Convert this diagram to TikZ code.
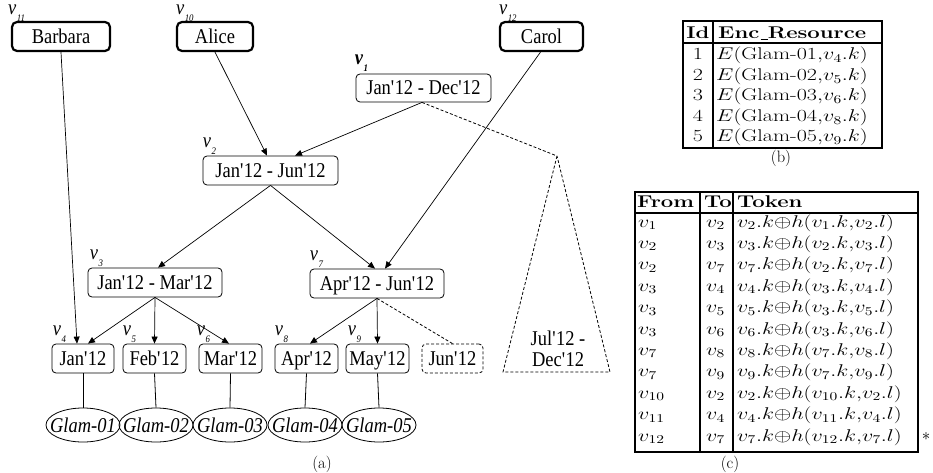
\RequirePackage{fix-cm}
\documentclass[tikz,border=0pt]{standalone}
\usepackage{fontspec}
\usepackage{graphicx}
\usetikzlibrary{arrows.meta,shapes.geometric,calc}
\newfontfamily\treefont[FakeStretch=0.88]{Liberation Serif}
\newcommand\ap{\textquotesingle}
\newcommand\vv[1]{{\treefont\fontsize{21}{22}\selectfont\itshape v\kern0.5pt\raisebox{-7pt}{\fontsize{10}{10}\selectfont #1}}}
\newcommand\vvb[1]{{\treefont\fontsize{21}{22}\selectfont\bfseries\itshape v\kern0.5pt\raisebox{-7pt}{\fontsize{10}{10}\selectfont #1}}}
\newcommand\tbx[1]{\scalebox{1.3}[1]{#1}}
\newcommand\us{\kern0.06em\rule[-0.08em]{0.32em}{0.09em}}
\begin{document}
\begin{tikzpicture}[x=1pt,y=-1pt,
  treefnt/.style={font=\treefont\fontsize{21}{22}\selectfont},
  namebox/.style={treefnt, draw, line width=2.2pt, rounded corners=5pt, minimum height=29pt, inner sep=0pt, text height=14pt, text depth=0pt},
  tbox/.style={treefnt, draw, line width=0.8pt, rounded corners=4pt, minimum height=29pt, inner sep=0pt, text height=14pt, text depth=0pt},
  leafbox/.style={tbox, minimum width=63pt},
  res/.style={font=\treefont\fontsize{21}{22}\selectfont\itshape, draw, line width=0.8pt, ellipse, minimum width=74pt, minimum height=34pt, inner sep=0pt, text height=14pt, text depth=0pt},
  lab/.style={anchor=base west, inner sep=0pt, text height=9pt},
  arr/.style={-{Triangle[length=7pt,width=6pt]}, line width=0.7pt},
  solidline/.style={line width=0.8pt},
  dsh/.style={line width=0.8pt, dash pattern=on 3pt off 2pt},
  tbl/.style={line width=2.4pt},
  tb/.style={inner sep=0pt, font=\fontsize{17}{17}\selectfont},
  tc/.style={inner sep=0pt, font=\fontsize{17}{17}\selectfont},
  captxt/.style={inner sep=0pt, anchor=base, font=\fontsize{16.5}{16.5}\selectfont}
]
\useasboundingbox (0,0) rectangle (933,473);

% users
\node[namebox, minimum width=98pt] (barbara) at (61,36.5) {Barbara};
\node[namebox, minimum width=76pt] (alice) at (215,36.5) {Alice};
\node[namebox, minimum width=83pt] (carol) at (541.5,36.5) {Carol};

% tree
\node[tbox, minimum width=135pt, minimum height=28pt] (v1) at (423.5,88) {Jan\ap12 - Dec\ap12};
\node[tbox, minimum width=135pt] (v2) at (270.5,170.5) {Jan\ap12 - Jun\ap12};
\node[tbox, minimum width=134pt] (v3) at (155,282.5) {Jan\ap12 - Mar\ap12};
\node[tbox, minimum width=134pt] (v7) at (377,283.5) {Apr\ap12 - Jun\ap12};

\node[leafbox, minimum width=62pt] (jan) at (83,358.5) {Jan\ap12};
\node[leafbox] (feb) at (154.5,358.5) {Feb\ap12};
\node[leafbox] (mar) at (230.5,358.5) {Mar\ap12};
\node[leafbox] (apr) at (306.5,358.5) {Apr\ap12};
\node[leafbox] (may) at (377.5,358.5) {May\ap12};
\node[tbox, minimum width=61pt, dash pattern=on 3pt off 2pt] (jun) at (452.5,358.5) {Jun\ap12};

% resources
\node[res] (g1) at (83,425) {\makebox[40pt]{Glam-01}};
\node[res] (g2) at (156,425) {\makebox[40pt]{Glam-02}};
\node[res] (g3) at (230,425) {\makebox[40pt]{Glam-03}};
\node[res] (g4) at (305,425) {\makebox[40pt]{Glam-04}};
\node[res] (g5) at (379,425) {\makebox[40pt]{Glam-05}};

% labels
\node[lab] (l11) at ([xshift=-3pt,yshift=6pt]barbara.north west) {\vv{11}};
\node[lab] (l10) at ([xshift=0pt,yshift=6pt]alice.north west) {\vv{10}};
\node[lab] (l12) at ([xshift=0pt,yshift=6pt]carol.north west) {\vv{12}};
\node[lab] (l1) at ([xshift=-1pt,yshift=9pt]v1.north west) {\vvb{1}};
\node[lab] (l2) at ([xshift=0pt,yshift=8pt]v2.north west) {\vv{2}};
\node[lab] (l3) at ([xshift=2pt,yshift=8pt]v3.north west) {\vv{3}};
\node[lab] (l7) at ([xshift=0pt,yshift=8pt]v7.north west) {\vv{7}};
\node[lab] (l4) at ([xshift=1pt,yshift=8pt]jan.north west) {\vv{4}};
\node[lab] (l5) at ([xshift=0pt,yshift=8pt]feb.north west) {\vv{5}};
\node[lab] (l6) at ([xshift=-2pt,yshift=8pt]mar.north west) {\vv{6}};
\node[lab] (l8) at ([xshift=0pt,yshift=8pt]apr.north west) {\vv{8}};
\node[lab] (l9) at ([xshift=2pt,yshift=8pt]may.north west) {\vv{9}};

% arrows
\draw[arr] (barbara.south) -- ([xshift=-6pt]jan.north);
\draw[arr] (v3.south) -- ([xshift=5pt]jan.north);
\draw[arr] (v3.south) -- (feb.north);
\draw[arr] (v3.south) -- ([xshift=-1.5pt]mar.north);
\draw[arr] (alice.south) -- ([xshift=-3.5pt]v2.north);
\draw[arr] ([xshift=-1.5pt]v1.south) -- ([xshift=24.5pt]v2.north);
\draw[arr] (v2.south) -- ([xshift=3pt]v3.north);
\draw[arr] (v2.south) -- ([xshift=-2pt]v7.north);
\draw[arr] ([xshift=-1pt]carol.south) -- ([xshift=8pt]v7.north);
\draw[arr] (v7.south) -- ([xshift=3.5pt]apr.north);
\draw[arr] (v7.south) -- (may.north);
\draw[dsh] (v7.south) -- (jun.north);

\draw[solidline] (jan.south) -- (g1.north);
\draw[solidline] (feb.south) -- (g2.north);
\draw[solidline] (mar.south) -- (g3.north);
\draw[solidline] (apr.south) -- (g4.north);
\draw[solidline] (may.south) -- (g5.north);

% subtree triangle
\coordinate (apex) at (557,156);
\coordinate (tl) at (503,372);
\coordinate (tr) at (610,372);
\draw[dsh] ([xshift=-1.5pt]v1.south) -- (apex);
\draw[dsh] (apex) -- (tl) -- (tr) -- cycle;
\node[treefnt, anchor=base, inner sep=0pt] (jul1) at (558,345) {Jul\ap12 -};
\node[treefnt, anchor=base, inner sep=0pt] (jul2) at (558,366) {Dec\ap12};

\node[captxt] (capa) at (322,468) {(a)};

% table (b)
\draw[tbl] (683,21) rectangle (882,148);
\draw[tbl] (683,43) -- (882,43);
\draw[tbl] (713,21) -- (713,148);
\node[tb, anchor=base] (bh1) at (698,39) {\tbx{\bfseries Id}};
\node[tb, anchor=base west] (bh2) at (718,39) {\tbx{\bfseries Enc\us Resource}};
\foreach \i/\g/\v in {1/01/4,2/02/5,3/03/6,4/04/8,5/05/9} {
  \node[tb, anchor=base] (bn\i) at (698,{60+20.5*(\i-1)}) {\tbx{\i}};
  \node[tb, anchor=base west] (be\i) at (716,{60+20.5*(\i-1)}) {\tbx{$E(\mbox{Glam-\g}{,}v_{\v}.k)$}};
}
\node[captxt] (capb) at (781,163) {(b)};

% table (c)
\draw[tbl] (635,192) rectangle (918,452);
\draw[tbl] (635,213) -- (918,213);
\draw[tbl] (700,192) -- (700,452);
\draw[tbl] (733,192) -- (733,452);
\node[tc, anchor=base west] (ch1) at (637,207) {\tbx{\bfseries From}};
\node[tc, anchor=base west] (ch2) at (704,207) {\tbx{\bfseries To}};
\node[tc, anchor=base west] (ch3) at (737,207) {\tbx{\bfseries Token}};
\foreach \f/\t [count=\i] in {1/2,2/3,2/7,3/4,3/5,3/6,7/8,7/9,10/2,11/4,12/7} {
  \node[tc, anchor=base west] (cf\i) at (638,{227+21.4*(\i-1)}) {\tbx{$v_{\f}$}};
  \node[tc, anchor=base west] (ct\i) at (706,{227+21.4*(\i-1)}) {\tbx{$v_{\t}$}};
  \node[tc, anchor=base west] (ck\i) at (737,{227+21.4*(\i-1)}) {\tbx{$v_{\t}.k{\oplus}h(v_{\f}.k{,}v_{\t}.l)$}};
}
\node[tc] (star) at (926,437) {$*$};
\node[captxt] (capc) at (730,468) {(c)};
\end{tikzpicture}
\end{document}
